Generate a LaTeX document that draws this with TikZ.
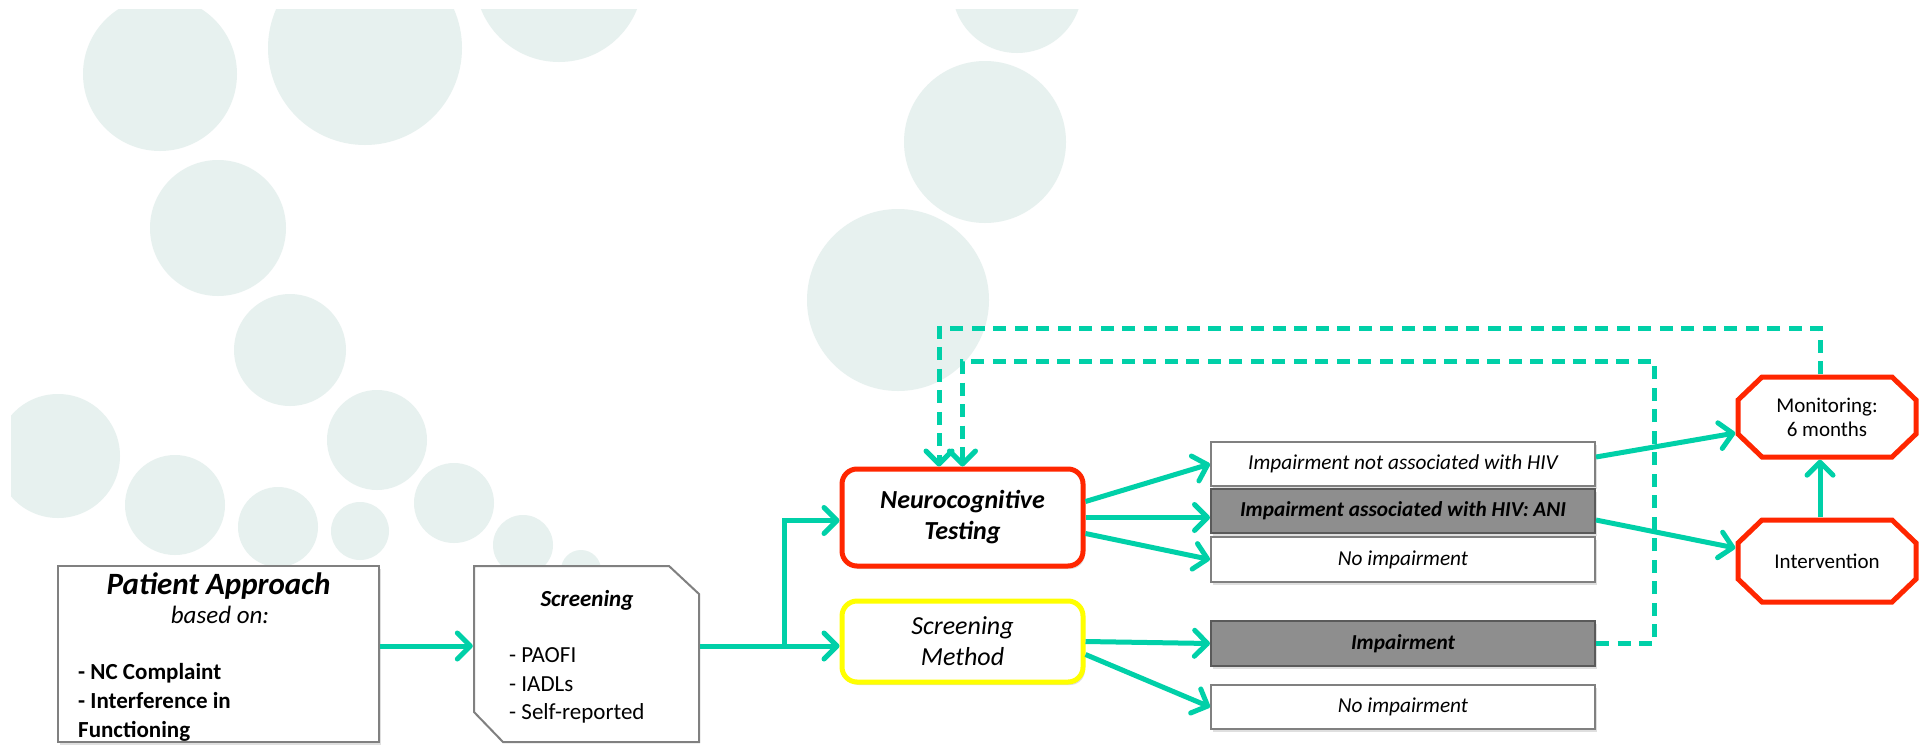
\documentclass[tikz,border=0pt]{standalone}
\usepackage{fontspec}
\setmainfont{Carlito}
\usetikzlibrary{arrows.meta,shadows}
\definecolor{arrowc}{RGB}{0,208,168}
\definecolor{bub}{RGB}{231,241,239}
\definecolor{redb}{RGB}{255,38,0}
\definecolor{yelb}{RGB}{255,255,0}
\definecolor{grayfill}{RGB}{142,142,142}
\definecolor{boxline}{RGB}{128,128,128}
\definecolor{darkline}{RGB}{90,90,90}
\begin{document}
\begin{tikzpicture}[x=1pt,y=-1pt,
  arr/.style={draw=arrowc, line width=5pt, -{Straight Barb[length=13pt,width=26pt,round]}},
  ln/.style={draw=arrowc, line width=5pt},
  darr/.style={arr, dash pattern=on 13pt off 8.5pt},
  shad/.style={drop shadow={shadow xshift=2pt, shadow yshift=-3pt, opacity=0.25}},
  outbox/.style={draw=boxline, line width=2pt, fill=white, shad, minimum width=384pt, inner sep=0pt, font=\fontsize{21.3}{25}\selectfont\itshape},
  graybox/.style={outbox, fill=grayfill, draw=darkline, font=\fontsize{21.3}{25}\selectfont\bfseries\itshape},
  rbox/.style={draw=redb, line width=5pt, rounded corners=15pt, fill=white, shad, minimum width=241pt, inner sep=0pt, align=center},
  octbox/.style={minimum width=183pt, inner sep=0pt, align=center, font=\fontsize{21}{24}\selectfont,
    path picture={\draw[draw=redb, line width=5pt, fill=white, line join=miter]
      ([shift={(26.5pt,-2.5pt)}]path picture bounding box.north west) --
      ([shift={(-26.5pt,-2.5pt)}]path picture bounding box.north east) --
      ([shift={(-2.5pt,-25.5pt)}]path picture bounding box.north east) --
      ([shift={(-2.5pt,25.5pt)}]path picture bounding box.south east) --
      ([shift={(-26.5pt,2.5pt)}]path picture bounding box.south east) --
      ([shift={(26.5pt,2.5pt)}]path picture bounding box.south west) --
      ([shift={(2.5pt,25.5pt)}]path picture bounding box.south west) --
      ([shift={(2.5pt,-25.5pt)}]path picture bounding box.north west) -- cycle;}},
  snipbox/.style={minimum width=227pt, minimum height=178pt, inner sep=0pt,
    path picture={\draw[draw=boxline, line width=2pt, fill=white, line join=miter]
      ([shift={(1pt,-1pt)}]path picture bounding box.north west) --
      ([shift={(-31pt,-1pt)}]path picture bounding box.north east) --
      ([shift={(-1pt,-29pt)}]path picture bounding box.north east) --
      ([shift={(-1pt,1pt)}]path picture bounding box.south east) --
      ([shift={(30pt,1pt)}]path picture bounding box.south west) --
      ([shift={(1pt,31pt)}]path picture bounding box.south west) -- cycle;}},
  txt/.style={inner sep=0pt, anchor=base},
  txtl/.style={inner sep=0pt, anchor=base west}
]
\useasboundingbox (0,0) rectangle (1926,747);
\fill[white] (0,0) rectangle (1926,747);
% background bubbles
\begin{scope}
\clip (11,9) rectangle (1926,747);
\fill[bub] (160,74) circle[radius=77pt];
\fill[bub] (365,48) circle[radius=97pt];
\fill[bub] (559,-22) circle[radius=84pt];
\fill[bub] (218,228) circle[radius=68pt];
\fill[bub] (290,350) circle[radius=56pt];
\fill[bub] (58,456) circle[radius=62pt];
\fill[bub] (175,505) circle[radius=50pt];
\fill[bub] (377,440) circle[radius=50pt];
\fill[bub] (278,527) circle[radius=40pt];
\fill[bub] (360,531) circle[radius=29pt];
\fill[bub] (454,503) circle[radius=40pt];
\fill[bub] (523,545) circle[radius=30pt];
\fill[bub] (581,570) circle[radius=20pt];
\fill[bub] (1017,-12) circle[radius=65pt];
\fill[bub] (985,142) circle[radius=81pt];
\fill[bub] (898,300) circle[radius=91pt];
\end{scope}

% Patient approach
\node[draw=boxline, line width=2pt, fill=white, shad, minimum width=321pt, minimum height=176pt, inner sep=0pt] (pa) at (218.5,654) {};
\node[txt, font=\fontsize{31}{36}\selectfont\bfseries\itshape] (pat) at (218.5,594) {Patient Approach};
\node[txt, font=\fontsize{25}{30}\selectfont\itshape] (pab) at (220,623) {based on:};
\node[txtl, font=\fontsize{23}{28}\selectfont\bfseries] (pa1) at (78,679) {- NC Complaint};
\node[txtl, font=\fontsize{23}{28}\selectfont\bfseries] (pa2) at (78,708) {- Interference in};
\node[txtl, font=\fontsize{23}{28}\selectfont\bfseries] (pa3) at (78,737) {Functioning};

% Screening
\node[snipbox] (scr) at (586.5,654) {};
\node[txt, font=\fontsize{23}{28}\selectfont\bfseries\itshape] (scrt) at (587,606) {Screening};
\node[txtl, font=\fontsize{23}{28}\selectfont] (scr1) at (509,662) {- PAOFI};
\node[txtl, font=\fontsize{23}{28}\selectfont] (scr2) at (509,691) {- IADLs};
\node[txtl, font=\fontsize{23}{28}\selectfont] (scr3) at (509,719) {- Self-reported};

% middle
\node[rbox, minimum height=97pt, font=\fontsize{26}{31}\selectfont\bfseries\itshape] (neuro) at (962.5,517.5) {Neurocognitive\\Testing};
\node[rbox, draw=yelb, minimum height=81pt, font=\fontsize{26}{31}\selectfont\itshape] (sm) at (962.5,641.5) {Screening\\Method};

% result boxes
\node[outbox, minimum height=44pt] (b1) at (1403,464) {Impairment not associated with HIV};
\node[graybox, minimum height=44pt] (b2) at (1403,511) {Impairment associated with HIV: ANI};
\node[outbox, minimum height=45pt] (b3) at (1403,559.5) {No impairment};
\node[graybox, minimum height=45pt] (imp) at (1403,643.5) {Impairment};
\node[outbox, minimum height=44pt] (ni) at (1403,707) {No impairment};

% octagons
\node[octbox, minimum height=85pt] (mon) at (1827,417) {Monitoring:\\6 months};
\node[octbox, minimum height=87pt] (int) at (1827,561) {Intervention};

% connectors
\coordinate (j) at (784,646);
\draw[arr] ([yshift=8pt]pa.east) -- ([yshift=8pt]scr.west);
\draw[ln] ([yshift=8pt]scr.east) -- (j);
\draw[arr] (j) |- ([yshift=-3pt]neuro.west);
\draw[arr] (j) -- (j -| sm.west);
\draw[arr] ([yshift=16pt]neuro.east) -- (b1.west);
\draw[arr] (neuro.east) -- (neuro.east -| b2.west);
\draw[arr] ([yshift=-16pt]neuro.east) -- (b3.west);
\draw[arr] (sm.east) -- (imp.west);
\draw[arr] ([yshift=-13pt]sm.east) -- (ni.west);
\draw[arr] ([yshift=7pt]b1.east) -- ([yshift=-16pt]mon.west);
\draw[arr] ([yshift=-9pt]b2.east) -- ([yshift=13pt]int.west);
\draw[arr] ([xshift=-7pt]int.north) -- ([xshift=-7pt]mon.south);
\draw[darr] ([xshift=-7pt]mon.north) -- ++(0,-46) -| ([xshift=-23.5pt]neuro.north);
\draw[darr] (imp.east) -- ++(58,0) -- ++(0,-282.5) -| (neuro.north);
\end{tikzpicture}
\end{document}
